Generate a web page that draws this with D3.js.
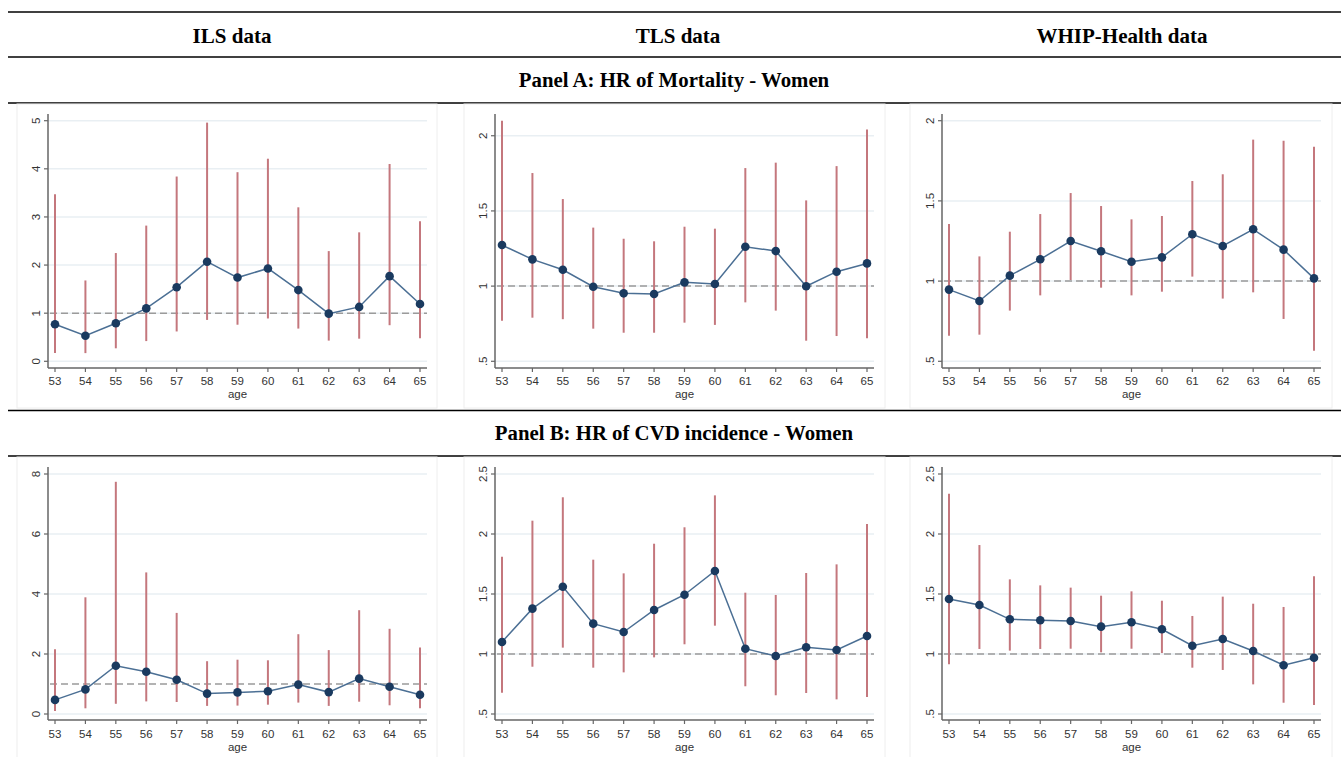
<!DOCTYPE html>
<html><head><meta charset="utf-8">
<script src="https://cdn.jsdelivr.net/npm/d3@7"></script>
<style>body{margin:0;background:#fff}svg{display:block}</style>
</head><body>
<script>
// ---- data ----
const ages = [53, 54, 55, 56, 57, 58, 59, 60, 61, 62, 63, 64, 65];
const columnTitles = ["ILS data", "TLS data", "WHIP-Health data"];
const panelTitles = ["Panel A: HR of Mortality - Women", "Panel B: HR of CVD incidence - Women"];

// Panel A: mortality
const ilsMortHR = [0.77, 0.53, 0.79, 1.10, 1.54, 2.07, 1.74, 1.93, 1.48, 0.99, 1.13, 1.77, 1.19];
const ilsMortLo = [0.17, 0.17, 0.27, 0.42, 0.62, 0.86, 0.76, 0.89, 0.68, 0.43, 0.47, 0.75, 0.48];
const ilsMortHi = [3.47, 1.68, 2.25, 2.82, 3.84, 4.96, 3.93, 4.21, 3.20, 2.29, 2.68, 4.10, 2.91];

const tlsMortHR = [1.273, 1.178, 1.109, 0.996, 0.952, 0.948, 1.025, 1.014, 1.262, 1.233, 0.999, 1.096, 1.151];
const tlsMortLo = [0.77, 0.79, 0.78, 0.717, 0.69, 0.69, 0.757, 0.742, 0.892, 0.837, 0.637, 0.668, 0.653];
const tlsMortHi = [2.10, 1.752, 1.579, 1.389, 1.315, 1.298, 1.395, 1.382, 1.785, 1.821, 1.570, 1.798, 2.042];

const whipMortHR = [0.947, 0.876, 1.034, 1.136, 1.250, 1.186, 1.121, 1.148, 1.292, 1.219, 1.323, 1.196, 1.017];
const whipMortLo = [0.66, 0.666, 0.816, 0.911, 1.007, 0.959, 0.911, 0.934, 1.028, 0.891, 0.930, 0.764, 0.566];
const whipMortHi = [1.356, 1.154, 1.308, 1.418, 1.549, 1.468, 1.385, 1.406, 1.624, 1.666, 1.882, 1.875, 1.838];

// Panel B: CVD incidence
const ilsCvdHR = [0.47, 0.82, 1.61, 1.41, 1.14, 0.68, 0.72, 0.76, 0.98, 0.73, 1.18, 0.91, 0.64];
const ilsCvdLo = [0.10, 0.19, 0.34, 0.42, 0.40, 0.27, 0.28, 0.31, 0.38, 0.27, 0.41, 0.29, 0.19];
const ilsCvdHi = [2.16, 3.89, 7.74, 4.72, 3.37, 1.76, 1.81, 1.79, 2.66, 2.13, 3.46, 2.84, 2.22];

const tlsCvdHR = [1.100, 1.378, 1.561, 1.253, 1.183, 1.367, 1.494, 1.692, 1.044, 0.983, 1.056, 1.033, 1.150];
const tlsCvdLo = [0.678, 0.894, 1.053, 0.886, 0.847, 0.972, 1.081, 1.236, 0.731, 0.656, 0.675, 0.622, 0.642];
const tlsCvdHi = [1.810, 2.111, 2.306, 1.786, 1.672, 1.919, 2.056, 2.322, 1.511, 1.492, 1.675, 1.747, 2.083];

const whipCvdHR = [1.458, 1.408, 1.289, 1.281, 1.275, 1.228, 1.264, 1.206, 1.069, 1.125, 1.025, 0.906, 0.969];
const whipCvdLo = [0.914, 1.042, 1.028, 1.042, 1.044, 1.014, 1.044, 1.008, 0.886, 0.867, 0.747, 0.594, 0.575];
const whipCvdHi = [2.336, 1.908, 1.622, 1.572, 1.553, 1.486, 1.522, 1.444, 1.317, 1.478, 1.419, 1.392, 1.647];

// y tick values and labels
const ticksMortILS = [0, 1, 2, 3, 4, 5];
const labelsMortILS = ["0", "1", "2", "3", "4", "5"];
const ticksMortOther = [0.5, 1, 1.5, 2];
const labelsMortOther = [".5", "1", "1.5", "2"];
const ticksCvdILS = [0, 2, 4, 6, 8];
const labelsCvdILS = ["0", "2", "4", "6", "8"];
const ticksCvdOther = [0.5, 1, 1.5, 2, 2.5];
const labelsCvdOther = [".5", "1", "1.5", "2", "2.5"];
const refLine = 1;

// ---- layout ----
const W = 1344, H = 757;
const svg = d3.select("body").append("svg").attr("width", W).attr("height", H)
  .style("font-family", "'Liberation Sans', Arial, sans-serif");

const colAxisX = [48, 495, 942];
const plotW = 379;
const colBox = [[17, 437], [464, 885], [910, 1332]];
const rows = [
  {axisY: 368, topY: 114, tickBottom: 361.3, tickTop: 120.7, box: [104, 408], tickLab: 385, ageLab: 397.5},
  {axisY: 720, topY: 467, tickBottom: 714, tickTop: 474, box: [457, 770], tickLab: 738, ageLab: 750.5}
];

const panels = [
  {row: 0, col: 0, hr: ilsMortHR, lo: ilsMortLo, hi: ilsMortHi, ticks: ticksMortILS, labels: labelsMortILS},
  {row: 0, col: 1, hr: tlsMortHR, lo: tlsMortLo, hi: tlsMortHi, ticks: ticksMortOther, labels: labelsMortOther},
  {row: 0, col: 2, hr: whipMortHR, lo: whipMortLo, hi: whipMortHi, ticks: ticksMortOther, labels: labelsMortOther},
  {row: 1, col: 0, hr: ilsCvdHR, lo: ilsCvdLo, hi: ilsCvdHi, ticks: ticksCvdILS, labels: labelsCvdILS},
  {row: 1, col: 1, hr: tlsCvdHR, lo: tlsCvdLo, hi: tlsCvdHi, ticks: ticksCvdOther, labels: labelsCvdOther},
  {row: 1, col: 2, hr: whipCvdHR, lo: whipCvdLo, hi: whipCvdHi, ticks: ticksCvdOther, labels: labelsCvdOther}
];

// ---- header table lines ----
[12, 57, 103, 410.5, 456].forEach(y => {
  svg.append("line").attr("x1", 8).attr("x2", 1341).attr("y1", y).attr("y2", y)
    .attr("stroke", "#000").attr("stroke-width", 1.3);
});
const serif = "'Liberation Serif', 'Times New Roman', serif";
const colCenters = [232, 678, 1122];
columnTitles.forEach((t, i) => {
  svg.append("text").attr("x", colCenters[i]).attr("y", 42.5).attr("text-anchor", "middle")
    .style("font-family", serif).style("font-weight", "bold").style("font-size", "21px").text(t);
});
[87, 440].forEach((y, i) => {
  svg.append("text").attr("x", 674).attr("y", y).attr("text-anchor", "middle")
    .style("font-family", serif).style("font-weight", "bold").style("font-size", "20.8px").text(panelTitles[i]);
});

// ---- panels ----
panels.forEach(p => {
  const r = rows[p.row];
  const ax = colAxisX[p.col];
  const g = svg.append("g");

  // faint graph region box
  g.append("rect").attr("x", colBox[p.col][0]).attr("y", r.box[0])
    .attr("width", colBox[p.col][1] - colBox[p.col][0]).attr("height", r.box[1] - r.box[0])
    .attr("fill", "none").attr("stroke", "#eeeeee").attr("stroke-width", 1);

  const x = d3.scaleLinear().domain([ages[0], ages[ages.length - 1]]).range([ax + 7, ax + plotW - 7]);
  const ext = d3.extent(p.ticks.concat(p.lo, p.hi));
  const y = d3.scaleLinear().domain(ext).range([r.tickBottom, r.tickTop]);

  // gridlines
  g.selectAll(".grid").data(p.ticks).join("line")
    .attr("x1", ax).attr("x2", ax + plotW)
    .attr("y1", d => y(d)).attr("y2", d => y(d))
    .attr("stroke", "#e9eff3").attr("stroke-width", 1.5);

  // reference line
  g.append("line").attr("x1", ax + 2).attr("x2", ax + plotW)
    .attr("y1", y(refLine)).attr("y2", y(refLine))
    .attr("stroke", "#9b9b9b").attr("stroke-width", 1.5).attr("stroke-dasharray", "7,4");

  // CI bars
  g.selectAll(".ci").data(ages).join("line")
    .attr("x1", (d) => x(d)).attr("x2", d => x(d))
    .attr("y1", (d, i) => y(p.lo[i])).attr("y2", (d, i) => y(p.hi[i]))
    .attr("stroke", "#c4777d").attr("stroke-width", 2);

  // connecting line
  const line = d3.line().x((d) => x(d)).y((d, i) => y(p.hr[i]));
  g.append("path").datum(ages).attr("d", line)
    .attr("fill", "none").attr("stroke", "#4b6f94").attr("stroke-width", 1.5);

  // markers
  g.selectAll(".pt").data(ages).join("circle")
    .attr("cx", d => x(d)).attr("cy", (d, i) => y(p.hr[i])).attr("r", 4.3)
    .attr("fill", "#1a3a5f");

  // axes
  g.append("line").attr("x1", ax).attr("x2", ax).attr("y1", r.topY).attr("y2", r.axisY)
    .attr("stroke", "#666").attr("stroke-width", 1.5);
  g.append("line").attr("x1", ax).attr("x2", ax + plotW).attr("y1", r.axisY).attr("y2", r.axisY)
    .attr("stroke", "#666").attr("stroke-width", 1.5);

  // y ticks
  p.ticks.forEach((t, i) => {
    g.append("line").attr("x1", ax - 4).attr("x2", ax).attr("y1", y(t)).attr("y2", y(t))
      .attr("stroke", "#666").attr("stroke-width", 1.2);
    g.append("text").attr("transform", `translate(${ax - 8},${y(t)}) rotate(-90)`)
      .attr("text-anchor", "middle").style("font-size", "11.5px").attr("fill", "#333")
      .text(p.labels[i]);
  });
  // x ticks
  ages.forEach(a => {
    g.append("line").attr("x1", x(a)).attr("x2", x(a)).attr("y1", r.axisY).attr("y2", r.axisY + 4)
      .attr("stroke", "#666").attr("stroke-width", 1.2);
    g.append("text").attr("x", x(a)).attr("y", r.tickLab).attr("text-anchor", "middle")
      .style("font-size", "11.5px").attr("fill", "#333").text(a);
  });
  g.append("text").attr("x", ax + plotW / 2).attr("y", r.ageLab).attr("text-anchor", "middle")
    .style("font-size", "11.5px").attr("fill", "#333").text("age");
});
</script>
</body></html>
